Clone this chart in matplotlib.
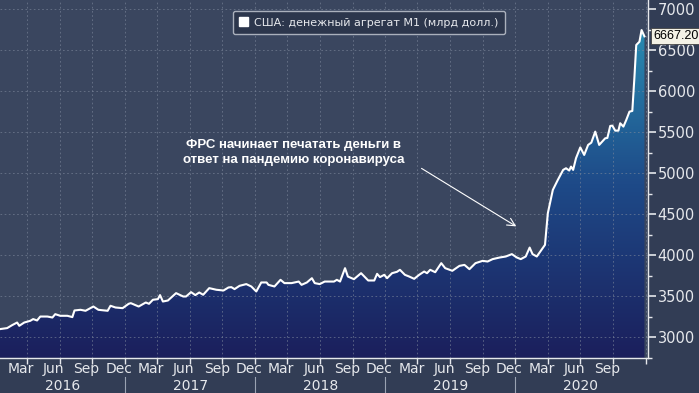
import numpy as np
import pandas as pd
import matplotlib
matplotlib.use("Agg")
import matplotlib.pyplot as plt
import matplotlib.dates as mdates
from matplotlib.colors import LinearSegmentedColormap
from matplotlib.patches import Patch

# M1 money stock, bn USD
dates = [
    "2016-01-16", "2016-02-05", "2016-02-19", "2016-03-04", "2016-03-10", "2016-03-24",
    "2016-04-10", "2016-04-18", "2016-04-29", "2016-05-08", "2016-05-28", "2016-06-11",
    "2016-06-19", "2016-07-03", "2016-07-23", "2016-08-06", "2016-08-12", "2016-08-29",
    "2016-09-12", "2016-10-04", "2016-10-18", "2016-11-13", "2016-11-21", "2016-12-05",
    "2016-12-25", "2017-01-11", "2017-01-17", "2017-02-08", "2017-02-28", "2017-03-09",
    "2017-03-20", "2017-04-03", "2017-04-09", "2017-04-17", "2017-05-01", "2017-05-24",
    "2017-06-13", "2017-06-21", "2017-07-05", "2017-07-17", "2017-07-28", "2017-08-08",
    "2017-08-25", "2017-09-14", "2017-10-04", "2017-10-18", "2017-10-26", "2017-11-04",
    "2017-11-18", "2017-12-07", "2017-12-21", "2018-01-04", "2018-01-18", "2018-02-02",
    "2018-02-07", "2018-02-24", "2018-03-13", "2018-03-24", "2018-04-13", "2018-04-21",
    "2018-05-03", "2018-05-11", "2018-05-26", "2018-06-09", "2018-06-17", "2018-07-01",
    "2018-07-15", "2018-08-10", "2018-08-18", "2018-08-27", "2018-09-10", "2018-09-18",
    "2018-10-05", "2018-10-25", "2018-11-14", "2018-12-01", "2018-12-09", "2018-12-17",
    "2018-12-29", "2019-01-06", "2019-01-20", "2019-02-03", "2019-02-11", "2019-02-25",
    "2019-03-09", "2019-03-23", "2019-04-06", "2019-04-20", "2019-04-28", "2019-05-07",
    "2019-05-21", "2019-06-07", "2019-06-18", "2019-07-08", "2019-07-28", "2019-08-11",
    "2019-08-25", "2019-09-11", "2019-10-01", "2019-10-15", "2019-10-29", "2019-11-18",
    "2019-12-05", "2019-12-22", "2020-01-05", "2020-01-16", "2020-01-30", "2020-02-10",
    "2020-02-18", "2020-03-01", "2020-03-24", "2020-04-01", "2020-04-15", "2020-04-29",
    "2020-05-14", "2020-05-22", "2020-05-31", "2020-06-05", "2020-06-11", "2020-06-19",
    "2020-07-01", "2020-07-12", "2020-07-23", "2020-08-01", "2020-08-12", "2020-08-23",
    "2020-09-09", "2020-09-15", "2020-09-23", "2020-09-29", "2020-10-07", "2020-10-16",
    "2020-10-21", "2020-10-30", "2020-11-07", "2020-11-16", "2020-11-24", "2020-11-30",
    "2020-12-05", "2020-12-14", "2020-12-20", "2020-12-28",
]
values = [
    3102, 3114, 3150, 3182, 3142, 3182,
    3203, 3224, 3207, 3255, 3255, 3243,
    3284, 3264, 3264, 3248, 3329, 3337,
    3325, 3377, 3337, 3325, 3386, 3365,
    3357, 3410, 3418, 3377, 3426, 3410,
    3459, 3467, 3516, 3438, 3450, 3540,
    3499, 3499, 3552, 3516, 3548, 3520,
    3601, 3581, 3572, 3609, 3613, 3589,
    3629, 3650, 3621, 3560, 3670, 3670,
    3641, 3621, 3702, 3662, 3662, 3670,
    3681, 3641, 3670, 3722, 3662, 3650,
    3681, 3681, 3702, 3681, 3844, 3742,
    3710, 3783, 3694, 3694, 3775, 3735,
    3763, 3722, 3783, 3800, 3824, 3763,
    3742, 3714, 3763, 3803, 3783, 3824,
    3795, 3905, 3844, 3812, 3872, 3884,
    3832, 3905, 3933, 3925, 3954, 3974,
    3986, 4015, 3974, 3954, 3986, 4095,
    4015, 3986, 4128, 4514, 4797, 4919,
    5041, 5061, 5033, 5081, 5041, 5183,
    5315, 5223, 5345, 5373, 5507, 5345,
    5426, 5430, 5576, 5580, 5519, 5519,
    5609, 5568, 5649, 5750, 5759, 6176,
    6562, 6602, 6744, 6667.2,
]
last_label = "6667.20"
month_labels = ["Mar", "Jun", "Sep", "Dec"]
years = [2016, 2017, 2018, 2019, 2020]
legend_label = "США: денежный агрегат M1 (млрд долл.)"
note = "ФРС начинает печатать деньги в\nответ на пандемию коронавируса"

x = mdates.date2num(pd.to_datetime(dates))
y = np.array(values, dtype=float)

bg_fig = "#323d55"
bg_ax = "#3a465f"
txt = "#e6e8ec"

fig = plt.figure(figsize=(6.99, 3.93), dpi=100, facecolor=bg_fig)
ax = fig.add_axes([0, 1 - 358 / 393, 648 / 699, 358 / 393])
ax.set_facecolor(bg_ax)

x0 = mdates.date2num(pd.Timestamp("2016-01-16"))
x1 = mdates.date2num(pd.Timestamp("2021-01-07"))
y0, y1 = 2753, 7110

# gradient area under the line
cmap = LinearSegmentedColormap.from_list("m1", ["#1b1f5c", "#1e4a88", "#2a93b6"])
grad = np.linspace(0, 1, 256).reshape(-1, 1)
im = ax.imshow(grad, cmap=cmap, origin="lower", aspect="auto",
               extent=[x0, x1, y0, 7000], zorder=1)
poly = ax.fill_between(x, y, y0, facecolor="none", edgecolor="none")
im.set_clip_path(poly.get_paths()[0], transform=ax.transData)
ax.set_xlim(x0, x1)
ax.set_ylim(y0, y1)

ax.plot(x, y, color="white", lw=1.5, zorder=3)

# x axis: quarter ticks, month labels in between
q_starts = pd.date_range("2016-04-01", "2021-01-01", freq="QS")
ax.set_xticks(mdates.date2num(q_starts))
ax.set_xticklabels([])
mids = []
labs = []
for yr in years:
    for i, m in enumerate([3, 6, 9, 12]):
        if yr == 2020 and m == 12:
            continue
        mids.append(mdates.date2num(pd.Timestamp(yr, m, 15)))
        labs.append(month_labels[i])
ax.set_xticks(mids, minor=True)
ax.set_xticklabels(labs, minor=True)
ax.tick_params(axis="x", which="major", direction="out", length=4, width=1, colors=txt)
ax.tick_params(axis="x", which="minor", length=0, pad=3, labelsize=10, labelcolor=txt)

ax.yaxis.tick_right()
ax.set_yticks(np.arange(3000, 7001, 500))
ax.set_yticks(np.arange(2750, 7001, 250), minor=True)
ax.tick_params(axis="y", which="major", direction="out", length=6, width=1.2,
               colors=txt, labelsize=10.5, pad=1)
ax.tick_params(axis="y", which="minor", direction="out", length=3, width=1, colors=txt)

ax.grid(True, which="major", color="#7d889c", ls=(0, (2, 3)), lw=0.6, alpha=0.7, zorder=2)
ax.set_axisbelow(False)

for s in ["top", "left"]:
    ax.spines[s].set_visible(False)
for s in ["right", "bottom"]:
    ax.spines[s].set_color(txt)
    ax.spines[s].set_linewidth(1)

# year row
trans = ax.get_xaxis_transform()
for yr in years:
    a = max(mdates.date2num(pd.Timestamp(yr, 1, 1)), x0)
    b = min(mdates.date2num(pd.Timestamp(yr + 1, 1, 1)), x1)
    ax.text((a + b) / 2, -0.078, str(yr), transform=trans, ha="center", va="center",
            color=txt, fontsize=10)
    if yr > years[0]:
        xs = mdates.date2num(pd.Timestamp(yr, 1, 1))
        ax.plot([xs, xs], [-0.053, -0.1], transform=trans, color="#9aa2b2",
                lw=0.8, clip_on=False)

# legend
leg = ax.legend(handles=[Patch(facecolor="white", edgecolor="white")],
                labels=[legend_label], loc="center", bbox_to_anchor=(0.569, 0.937),
                frameon=True, fontsize=8, handlelength=0.8, handleheight=0.8,
                handletextpad=0.5, borderpad=0.6, fancybox=True)
leg.get_frame().set_facecolor("#2c364c")
leg.get_frame().set_edgecolor("#aab0bc")
leg.get_frame().set_alpha(1)
for t in leg.get_texts():
    t.set_color(txt)

# last value tag
ax.text(1.008, y[-1], last_label, transform=ax.get_yaxis_transform(), va="center",
        ha="left", fontsize=9, family="Liberation Sans", color="black", clip_on=False,
        bbox=dict(boxstyle="square,pad=0.15", facecolor="#f4f2e6", edgecolor="#444444", lw=0.6))

# annotation
ax.text(mdates.date2num(pd.Timestamp("2018-04-19")), 5255, note, ha="center", va="center",
        color="white", fontsize=9.5, fontweight="bold", family="Liberation Sans",
        linespacing=1.3, zorder=5)
ax.annotate("", xy=(mdates.date2num(pd.Timestamp("2020-01-10")), 4335),
            xytext=(mdates.date2num(pd.Timestamp("2019-04-06")), 5077),
            arrowprops=dict(arrowstyle="->", color="white", lw=0.8,
                            mutation_scale=14), zorder=5)

fig.savefig("out.png", dpi=100, facecolor=bg_fig)
